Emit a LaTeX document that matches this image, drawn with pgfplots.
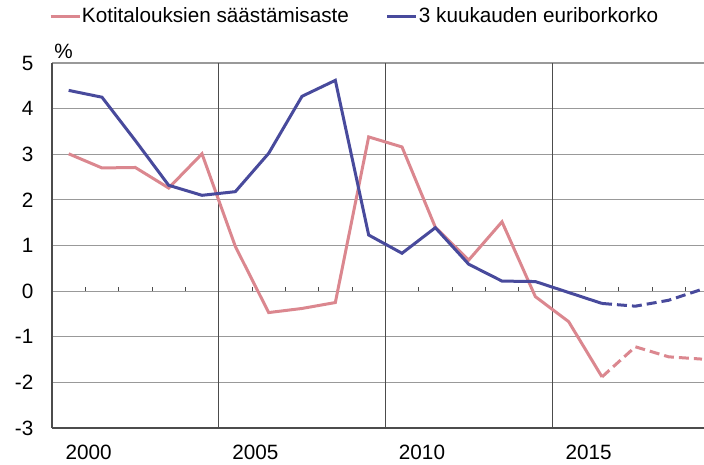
\documentclass[border=0pt]{standalone}
\usepackage{fontspec}
\setmainfont{Liberation Sans}
\usepackage{pgfplots}
\pgfplotsset{compat=1.18}
\definecolor{pinkc}{RGB}{219,135,143}
\definecolor{bluec}{RGB}{72,74,156}
\begin{document}
\begin{tikzpicture}
\begin{axis}[
 at={(0,0)}, anchor=south west,
 width=652bp, height=365bp, scale only axis,
 xmin=1999.5, xmax=2019.06, ymin=-3, ymax=5,
 axis lines=left, axis line style={-, draw=black!70, line width=1.3bp},
 ytick={-3,...,5}, yticklabels={-3,-2,-1,0,1,2,3,4,5},
 xtick={2000.6,2005.6,2010.6,2015.6}, xticklabels={2000,2005,2010,2015},
 major tick length=0pt,
 ymajorgrids=true,
 y grid style={draw=black!40, line width=1.1bp},
 extra x ticks={2004.5,2009.5,2014.5}, extra x tick labels={},
 extra x tick style={xmajorgrids=true, x grid style={draw=black!70, line width=0.8bp}},
 tick label style={font=\fontsize{20.7bp}{24bp}\selectfont},
 yticklabel style={anchor=east, inner sep=0pt, xshift=-18.5bp},
 xticklabel style={anchor=north, inner sep=0pt, yshift=-17bp},
 clip=true,
 legend columns=2,
 legend style={draw=none, fill=none, inner sep=0pt, outer sep=0pt,
   at={(0,1)}, anchor=west, xshift=-3bp, yshift=47bp,
   font=\fontsize{20.7bp}{24bp}\selectfont,
   nodes={inner sep=1bp},
   /tikz/every even column/.append style={column sep=36bp}},
 legend image code/.code={\draw[#1] (0bp,0bp) -- (29bp,0bp);},
]
\addplot[pinkc, line width=3bp] coordinates {
 (2000,3.01)(2001,2.70)(2002,2.71)(2003,2.26)(2004,3.01)(2005,0.98)(2006,-0.47)(2007,-0.38)(2008,-0.25)(2009,3.38)(2010,3.16)(2011,1.40)(2012,0.68)(2013,1.52)(2014,-0.12)(2015,-0.67)(2016,-1.88)};
\addlegendentry{Kotitalouksien säästämisaste}
\addplot[bluec, line width=3bp] coordinates {
 (2000,4.40)(2001,4.25)(2002,3.30)(2003,2.32)(2004,2.10)(2005,2.18)(2006,3.02)(2007,4.27)(2008,4.62)(2009,1.23)(2010,0.83)(2011,1.39)(2012,0.59)(2013,0.22)(2014,0.21)(2015,-0.03)(2016,-0.27)};
\addlegendentry{3 kuukauden euriborkorko}
\addplot[pinkc, line width=3bp, dash pattern=on 10bp off 5bp, forget plot] coordinates {
 (2016,-1.88)(2017,-1.22)(2018,-1.44)(2019,-1.49)};
\addplot[bluec, line width=3bp, dash pattern=on 10bp off 5bp, forget plot] coordinates {
 (2016,-0.27)(2017,-0.33)(2018,-0.20)(2019,0.04)};
\foreach \k in {2000.5,2001.5,2002.5,2003.5,2005.5,2006.5,2007.5,2008.5,2010.5,2011.5,2012.5,2013.5,2015.5,2016.5,2017.5,2018.5} {
 \edef\temp{\noexpand\draw[black!70, line width=0.8bp] (axis cs:\k,0) -- ([yshift=3.7bp]axis cs:\k,0);}
 \temp
}
\end{axis}
\node[font=\fontsize{20.7bp}{24bp}\selectfont, inner sep=0pt] at (11.5bp,376.5bp) {\%};
\pgfresetboundingbox
\path[use as bounding box] (-52bp,-37bp) rectangle (652bp,428bp);
\end{tikzpicture}
\end{document}
